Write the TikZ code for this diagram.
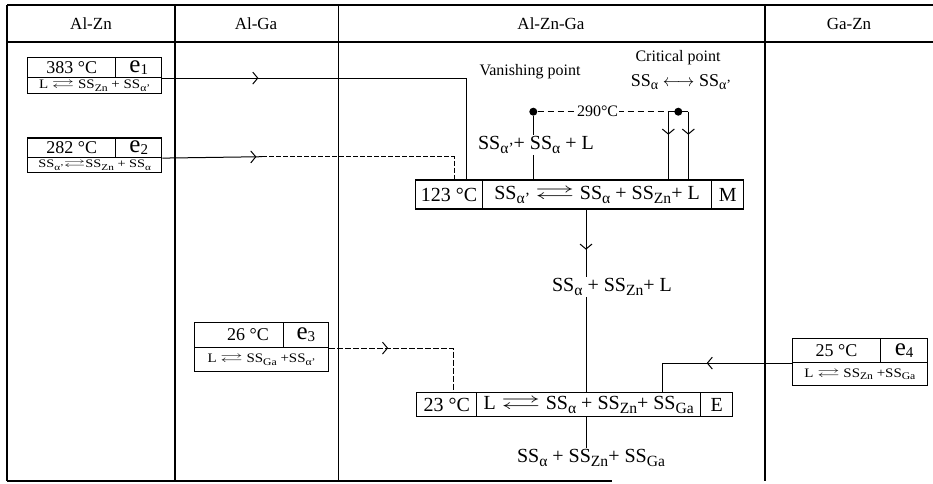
\documentclass[tikz,border=0pt]{standalone}
\usepackage{fontspec}
\setmainfont{Liberation Serif}
\usepackage{amssymb}
\usetikzlibrary{arrows.meta,decorations.markings}
\newcommand\sbs[1]{\raisebox{-0.45ex}{\scalebox{0.78}{#1}}}
\newcommand\eqarr{\scalebox{1.5}[1]{$\rightleftarrows$}}
\newcommand\leqarr{\scalebox{2}[1]{$\rightleftarrows$}}
\newcommand\elab[1]{{\fontsize{25}{25}\selectfont e}\raisebox{-0.5ex}{\fontsize{15}{15}\selectfont #1}}
\newcommand\wide[1]{\scalebox{1.15}[1]{#1}}
\tikzset{
  tbl/.style={line width=1.6pt},
  cell/.style={draw, line width=1.4pt, inner sep=0pt, anchor=north west},
  big/.style={font=\fontsize{20}{22}\selectfont},
  mid/.style={font=\fontsize{18}{20}\selectfont},
  small/.style={font=\fontsize{13}{14}\selectfont},
  tiny/.style={font=\fontsize{11.5}{12}\selectfont},
  lab/.style={font=\fontsize{16}{18}\selectfont, inner sep=1pt},
  hdr/.style={font=\fontsize{17}{19}\selectfont, inner sep=1pt},
  conn/.style={line width=1pt},
  dotnode/.style={circle, fill=black, inner sep=0pt, minimum size=8pt},
  midarr/.style={postaction={decorate}, decoration={markings,
     mark=at position #1 with {\arrow{Straight Barb[length=5pt,width=12pt,line width=1pt]}}}}
}
\begin{document}
\begin{tikzpicture}[x=1pt,y=-1pt]
\useasboundingbox (0,0) rectangle (933,483);
% table
\draw[tbl] (7,5) -- (933,5);
\draw[tbl] (7,42) -- (933,42);
\draw[tbl] (7,481) -- (612,481);
\foreach \x in {7,175,338.3,765} \draw[tbl] (\x,5) -- (\x,481);
\node[hdr] (h1) at (91,23.5) {Al-Zn};
\node[hdr] (h2) at (256,23.5) {Al-Ga};
\node[hdr] (h3) at (551,23.5) {Al-Zn-Ga};
\node[hdr] (h4) at (849,23.5) {Ga-Zn};
% e1 box
\node[cell, mid, minimum width=88pt, minimum height=20pt] (e1a) at (27,56.7) {383 °C};
\node[cell, minimum width=46pt, minimum height=20pt] (e1b) at (115,56.7) {\elab{1}};
\node[cell, small, minimum width=134pt, minimum height=16pt] (e1c) at (27,76.7) {\wide{L \eqarr{} SS\sbs{Zn} + SS\sbs{α'}}};
% e2 box
\node[cell, mid, minimum width=88pt, minimum height=19.4pt] (e2a) at (27,137.3) {\raisebox{1pt}{282 °C}};
\node[cell, minimum width=46pt, minimum height=19.4pt] (e2b) at (115,137.3) {\elab{2}};
\node[cell, tiny, minimum width=134pt, minimum height=15.3pt] (e2c) at (27,156.7) {\scalebox{1.25}[1]{SS\sbs{α'}\eqarr{}SS\sbs{Zn} + SS\sbs{α}}};
% e3 box
\node[cell, mid, minimum width=88.7pt, minimum height=25pt] (e3a) at (194,321.7) {\hspace*{18pt}26 °C};
\node[cell, minimum width=45pt, minimum height=25pt] (e3b) at (282.7,321.7) {\elab{3}};
\node[cell, small, minimum width=133.7pt, minimum height=24pt] (e3c) at (194,346.7) {\wide{L \eqarr{} SS\sbs{Ga} +SS\sbs{α'}}};
% e4 box
\node[cell, mid, minimum width=88.3pt, minimum height=23.7pt] (e4a) at (791.7,338) {25 °C};
\node[cell, minimum width=46.7pt, minimum height=23.7pt] (e4b) at (880,338) {\elab{4}};
\node[cell, small, minimum width=135pt, minimum height=23.3pt] (e4c) at (791.7,361.7) {\wide{L \eqarr{} SS\sbs{Zn} +SS\sbs{Ga}}};
% 123 box
\node[cell, big, minimum width=66.7pt, minimum height=29pt] (c1) at (415,179.3) {123 °C};
\node[cell, big, minimum width=229.3pt, minimum height=29pt] (c2) at (481.7,179.3) {SS\sbs{α'} \leqarr{} SS\sbs{α} + SS\sbs{Zn}+ L};
\node[cell, big, minimum width=32pt, minimum height=29pt] (c3) at (711,179.3) {M};
% 23 box
\node[cell, big, minimum width=60pt, minimum height=24pt] (d1) at (416,392) {23 °C};
\node[cell, big, minimum width=224pt, minimum height=24pt] (d2) at (476,392) {L \leqarr{} SS\sbs{α} + SS\sbs{Zn}+ SS\sbs{Ga}};
\node[cell, big, minimum width=32pt, minimum height=24pt] (d3) at (700,392) {E};
% labels
\node[lab] (vanish) at (530,72) {Vanishing point};
\node[lab] (crit) at (678,58) {Critical point};
\node[mid, inner sep=1pt] (critr) at (681,82) {SS\sbs{α} $\longleftrightarrow$ SS\sbs{α'}};
\node[dotnode] (vp) at (533.3,111.7) {};
\node[dotnode] (cp) at (678.3,111.7) {};
\node[big, inner sep=1pt] (l1) at (536,145) {SS\sbs{α'}+ SS\sbs{α} + L};
\node[big, inner sep=1pt] (l2) at (612,287) {SS\sbs{α} + SS\sbs{Zn}+ L};
\node[big, inner sep=1pt] (l3) at (591,458) {SS\sbs{α} + SS\sbs{Zn}+ SS\sbs{Ga}};
\coordinate (colx) at (586,300);
% connectors
\draw[conn, midarr=96pt] (e1b.south east) -| ([xshift=-17pt]c1.north east);
\coordinate (e2m) at (262,156.7);
\draw[conn, midarr=94pt] (e2b.south east) -- (e2m);
\draw[conn, dash pattern=on 5pt off 2pt] (e2m) -| ([xshift=-29pt]c1.north east);
\draw[conn, dash pattern=on 6pt off 2pt, midarr=59pt] (e3b.south east) -| ([xshift=-23.7pt]d1.north east);
\draw[conn, midarr=85pt] (e4a.south west) -| ([xshift=-39.3pt]d2.north east);
\draw[conn, dash pattern=on 6pt off 4pt] (vp) -- node[lab, fill=white, pos=0.44] (t290) {290°C} (cp);
\draw[conn] (vp) -- (vp |- l1.north);
\draw[conn] (vp |- l1.south) -- (vp |- c2.north);
\draw[conn] ([xshift=-10pt]cp.center) -- ([xshift=10pt]cp.center);
\draw[conn, midarr=23pt] ([xshift=-10pt]cp.center) -- ([xshift=-10pt]cp.center |- c2.north);
\draw[conn, midarr=23pt] ([xshift=10pt]cp.center) -- ([xshift=10pt]cp.center |- c2.north);
\draw[conn, midarr=40pt] (colx |- c2.south) -- (colx |- l2.north);
\draw[conn] (colx |- l2.south) -- (colx |- d2.north);
\draw[conn] (colx |- d2.south) -- (colx |- l3.north);
\end{tikzpicture}
\end{document}
